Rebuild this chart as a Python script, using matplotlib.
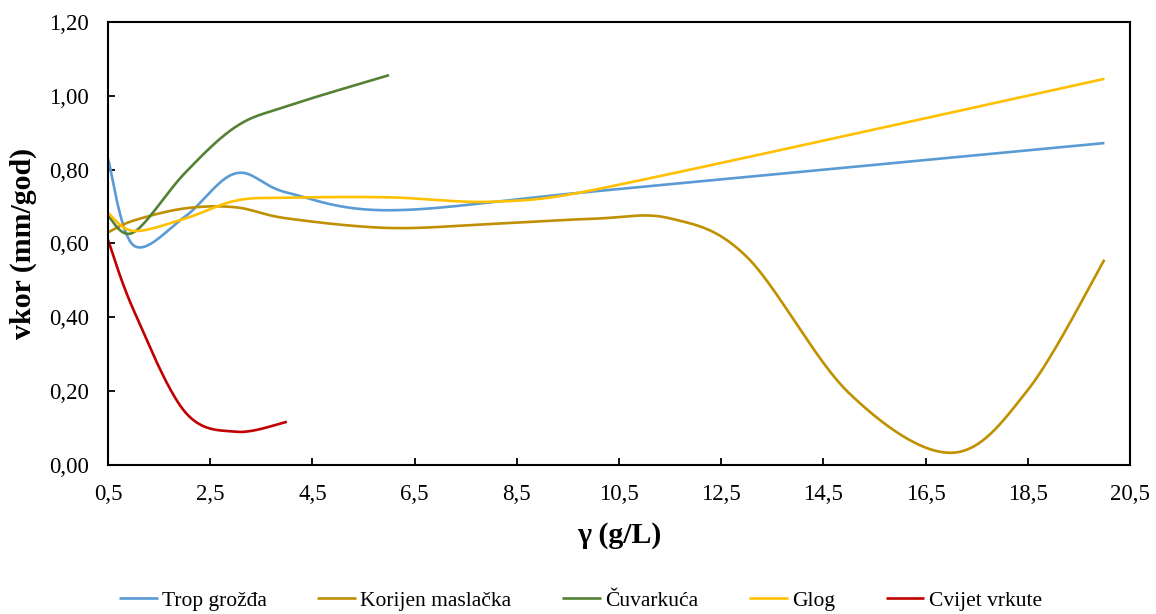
import matplotlib
matplotlib.use("Agg")
import matplotlib.pyplot as plt
import numpy as np
from matplotlib.ticker import FuncFormatter

# data (g/L -> mm/god)
trop_x = [0.5, 1, 2, 3, 4, 6, 10, 20]
trop_y = [0.83, 0.595, 0.672, 0.79, 0.738, 0.69, 0.741, 0.872]

korijen_x = [0.5, 1, 2, 3, 4, 6, 8, 10, 11.5, 13, 15, 17, 18.5, 20]
korijen_y = [0.63, 0.662, 0.695, 0.698, 0.668, 0.642, 0.653, 0.667, 0.668, 0.564,
             0.195, 0.033, 0.203, 0.556]

cuvarkuca_x = [0.5, 1, 2, 3, 4, 6]
cuvarkuca_y = [0.675, 0.63, 0.79, 0.916, 0.972, 1.056]

glog_x = [0.5, 1, 2, 3, 4, 6, 8, 10, 20]
glog_y = [0.683, 0.634, 0.667, 0.716, 0.724, 0.725, 0.713, 0.745, 1.046]

vrkuta_x = [0.5, 1, 2, 3, 4]
vrkuta_y = [0.61, 0.42, 0.145, 0.09, 0.117]

names = ["Trop grožđa", "Korijen maslačka", "Čuvarkuća", "Glog", "Cvijet vrkute"]
colors = ["#5B9BD5", "#BF9000", "#548235", "#FFC000", "#C00000"]

# pixels per data unit, used so the smoothing works in screen space
PX_X = 51.1
PX_Y = 369.0


def excel_smooth(x, y, n=40):
    """Bezier smoothing like Excel's 'smoothed line' option."""
    p = np.column_stack([np.array(x) * PX_X, np.array(y) * PX_Y]).astype(float)
    out = [p[0]]
    t = np.linspace(0, 1, n)[1:, None]
    for i in range(len(p) - 1):
        p0 = p[i - 1] if i > 0 else p[i]
        p1, p2 = p[i], p[i + 1]
        p3 = p[i + 2] if i + 2 < len(p) else p[i + 1]
        half = np.hypot(*(p2 - p1)) / 2
        a1 = (p2 - p0) / 6
        a2 = (p3 - p1) / 6
        # keep the handles from running past half of the segment
        if np.hypot(*a1) > half:
            a1 = a1 * half / np.hypot(*a1)
        if np.hypot(*a2) > half:
            a2 = a2 * half / np.hypot(*a2)
        c1 = p1 + a1
        c2 = p2 - a2
        seg = ((1 - t) ** 3) * p1 + 3 * ((1 - t) ** 2) * t * c1 + 3 * (1 - t) * t ** 2 * c2 + t ** 3 * p2
        out.extend(seg)
    out = np.array(out)
    return out[:, 0] / PX_X, out[:, 1] / PX_Y


plt.rcParams['font.family'] = ['Liberation Serif', 'DejaVu Serif']

fig = plt.figure(figsize=(11.56, 6.14), dpi=100)
ax = fig.add_axes([0.0934, 0.2427, 0.8841, 0.7215])

series = [(trop_x, trop_y), (korijen_x, korijen_y), (cuvarkuca_x, cuvarkuca_y),
          (glog_x, glog_y), (vrkuta_x, vrkuta_y)]
for (sx, sy), name, c in zip(series, names, colors):
    xs, ys = excel_smooth(sx, sy)
    ax.plot(xs, ys, color=c, lw=1.9, label=name, solid_capstyle='butt')

ax.set_xlim(0.5, 20.5)
ax.set_ylim(0, 1.2)
ax.set_xticks(np.arange(0.5, 20.6, 2))
ax.set_yticks(np.arange(0, 1.21, 0.2))
ax.xaxis.set_major_formatter(FuncFormatter(lambda v, p: f"{v:.1f}".replace(".", ",")))
ax.yaxis.set_major_formatter(FuncFormatter(lambda v, p: f"{v:.2f}".replace(".", ",")))
ax.tick_params(direction='in', length=5, width=1.3, labelsize=16.5, colors='black')
ax.tick_params(axis='x', pad=14)
ax.tick_params(axis='y', pad=13.5)
for s in ax.spines.values():
    s.set_linewidth(1.5)
    s.set_color('black')

ax.set_xlabel("γ (g/L)", fontsize=21.5, fontweight='bold', labelpad=12)
ax.set_ylabel("vkor (mm/god)", fontsize=21.5, fontweight='bold', labelpad=9)

fig.legend(loc='center', bbox_to_anchor=(0.502, 0.022), ncol=5, frameon=False,
           fontsize=15.5, handlelength=1.8, columnspacing=2.35, handletextpad=0.2,
           borderpad=0)

fig.savefig("out.png", dpi=100)
